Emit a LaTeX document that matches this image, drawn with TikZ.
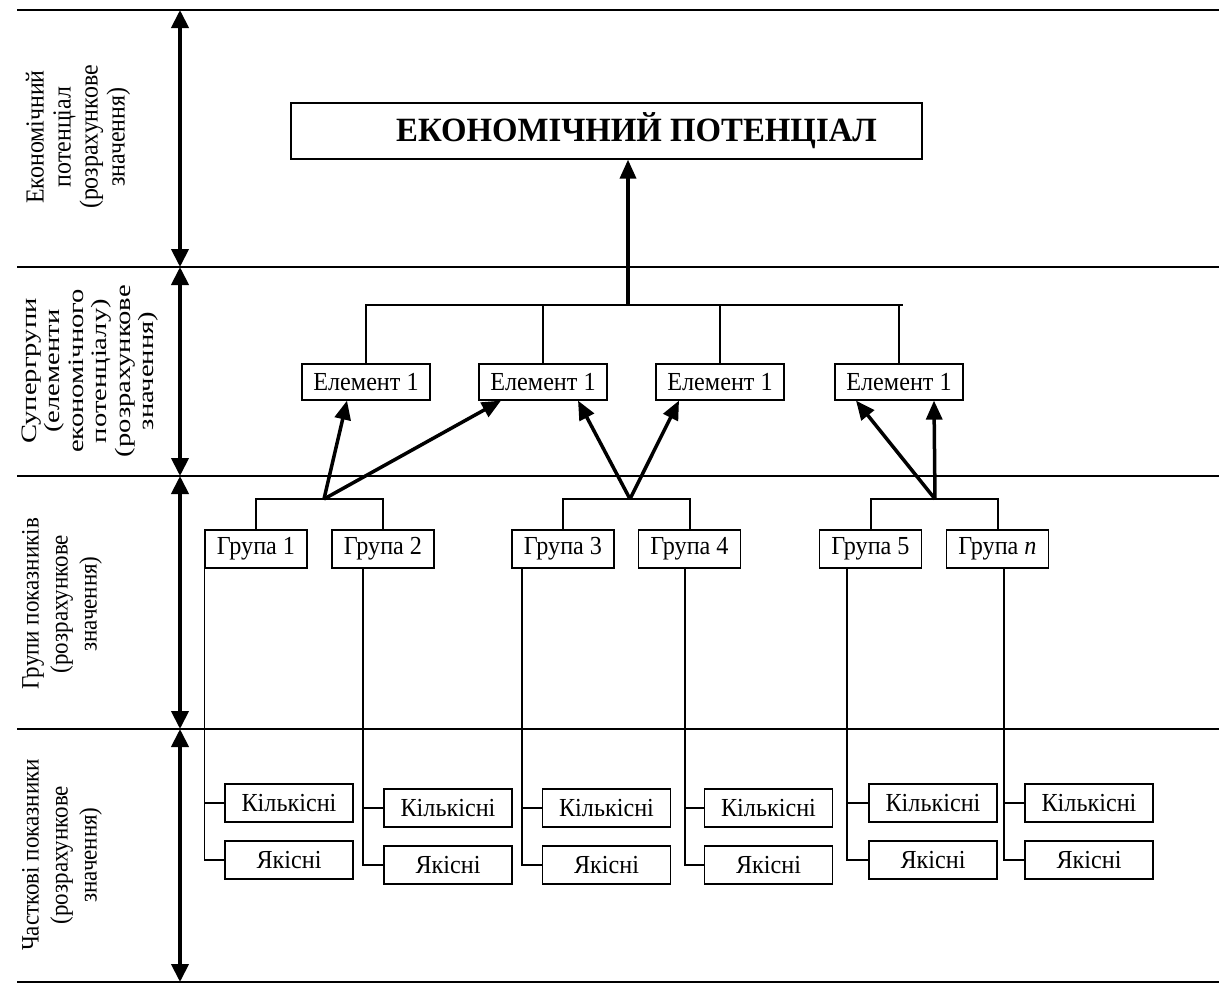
\documentclass[tikz,border=0pt]{standalone}
\usepackage{fontspec}
\setmainfont{Liberation Serif}
\newfontfamily\boxfont[FakeStretch=0.93]{Liberation Serif}
\newfontfamily\lblfont[FakeStretch=0.92]{Liberation Serif}
\newfontfamily\lblwide[FakeStretch=1.3]{Liberation Serif}
\newfontfamily\titlefont[FakeStretch=0.965]{Liberation Serif}
\usetikzlibrary{arrows.meta}
\begin{document}
\begin{tikzpicture}[x=1pt,y=-1pt,
 secline/.style={line width=2pt},
 dblarrow/.style={line width=4pt,{Triangle[width=17pt,length=18pt]}-{Triangle[width=17pt,length=18pt]}},
 lbl/.style={rotate=90,align=center,inner sep=0pt},
 box/.style={draw,line width=1.2pt,inner sep=0pt,font=\boxfont\fontsize{26}{28}\selectfont},
 ebox/.style={box,minimum width=128pt,minimum height=36pt},
 gbox/.style={box,minimum width=102pt,minimum height=38pt},
 sbox/.style={box,minimum width=128pt,minimum height=38pt},
 bracket/.style={line width=2pt},
 thinline/.style={line width=1.2pt},
 bigarrow/.style={line width=3.5pt,-{Triangle[width=16pt,length=19pt]}}
]
\useasboundingbox (0,0) rectangle (1219,985);

% section lines
\foreach \yy in {10,267,476,729,982}{\draw[secline] (17,\yy) -- (1219,\yy);}
% level arrows
\coordinate (a0) at (180,10);
\coordinate (a1) at (180,267);
\coordinate (a2) at (180,476);
\coordinate (a3) at (180,729);
\coordinate (a4) at (180,982);
\draw[dblarrow] (a0) -- (a1);
\draw[dblarrow] (a1) -- (a2);
\draw[dblarrow] (a2) -- (a3);
\draw[dblarrow] (a3) -- (a4);

% level labels
\node[lbl,font=\lblfont\fontsize{26}{27}\selectfont] (l1) at (78,137) {Економічний\\потенціал\\(розрахункове\\значення)};
\node[lbl,font=\lblwide\fontsize{22}{23.5}\selectfont] (l2) at (90,371) {Супергрупи\\(елементи\\економічного\\потенціалу)\\(розрахункове\\значення)};
\node[lbl,font=\lblfont\fontsize{25}{29}\selectfont] (l3) at (62,604) {Групи показників\\(розрахункове\\значення)};
\node[lbl,font=\lblfont\fontsize{25}{29}\selectfont] (l4) at (62,855) {Часткові показники\\(розрахункове\\значення)};

% title
\node[draw,line width=1.2pt,minimum width=631pt,minimum height=56pt,inner sep=0pt,
      font=\titlefont\bfseries\fontsize{34}{36}\selectfont] (title) at (606.5,131) {\hspace*{60pt}ЕКОНОМІЧНИЙ ПОТЕНЦІАЛ};

% elements
\node[ebox] (e1) at (366,382) {Елемент 1};
\node[ebox] (e2) at (543,382) {Елемент 1};
\node[ebox] (e3) at (720,382) {Елемент 1};
\node[ebox] (e4) at (899,382) {Елемент 1};

\coordinate (top) at (628,305);
\draw[bigarrow] (top) -- (top |- title.south);
\draw[bracket] (e1.north) -- (e1.north |- top) -- ([xshift=4pt]e4.north |- top);
\draw[bracket] (e2.north) -- (e2.north |- top);
\draw[bracket] (e3.north) -- (e3.north |- top);
\draw[bracket] (e4.north) -- (e4.north |- top);

% groups
\node[gbox] (g1) at (256,549) {Група 1};
\node[gbox] (g2) at (383,549) {Група 2};
\node[gbox] (g3) at (563,549) {Група 3};
\node[gbox] (g4) at (689.5,549) {Група 4};
\node[gbox] (g5) at (870.5,549) {Група 5};
\node[gbox] (g6) at (997.5,549) {Група \textit{n}};

\coordinate (j1) at (324,499);
\coordinate (j2) at (630,499);
\coordinate (j3) at (935,499);
\draw[bracket] (g1.north) -- (g1.north |- j1) -- (g2.north |- j1) -- (g2.north);
\draw[bracket] (g3.north) -- (g3.north |- j2) -- (g4.north |- j2) -- (g4.north);
\draw[bracket] (g5.north) -- (g5.north |- j3) -- (g6.north |- j3) -- (g6.north);

\draw[bigarrow] (j1) -- ([xshift=-19pt]e1.south);
\draw[bigarrow] (j1) -- ([xshift=-42pt]e2.south);
\draw[bigarrow] (j2) -- ([xshift=35pt]e2.south);
\draw[bigarrow] (j2) -- ([xshift=-41pt]e3.south);
\draw[bigarrow] (j3) -- ([xshift=-43pt]e4.south);
\draw[bigarrow] (j3) -- ([xshift=35pt]e4.south);

% indicators
\node[sbox] (k1) at (289,803) {Кількісні};
\node[sbox] (y1) at (289,860) {Якісні};
\node[sbox] (k2) at (448,808) {Кількісні};
\node[sbox] (y2) at (448,865) {Якісні};
\node[sbox] (k3) at (606.5,808) {Кількісні};
\node[sbox] (y3) at (606.5,865) {Якісні};
\node[sbox] (k4) at (768.5,808) {Кількісні};
\node[sbox] (y4) at (768.5,865) {Якісні};
\node[sbox] (k5) at (933,803) {Кількісні};
\node[sbox] (y5) at (933,860) {Якісні};
\node[sbox] (k6) at (1089,803) {Кількісні};
\node[sbox] (y6) at (1089,860) {Якісні};

\coordinate (d1) at (g1.south west);
\coordinate (d2) at ([xshift=-20pt]g2.south);
\coordinate (d3) at ([xshift=-41pt]g3.south);
\coordinate (d4) at ([xshift=-4.5pt]g4.south);
\coordinate (d5) at ([xshift=-23.5pt]g5.south);
\coordinate (d6) at ([xshift=6.5pt]g6.south);
\foreach \i in {1,...,6}{
  \draw[thinline] (d\i) |- (y\i.west);
  \draw[thinline] (k\i.west) -- (k\i.west -| d\i);
}
\end{tikzpicture}
\end{document}
